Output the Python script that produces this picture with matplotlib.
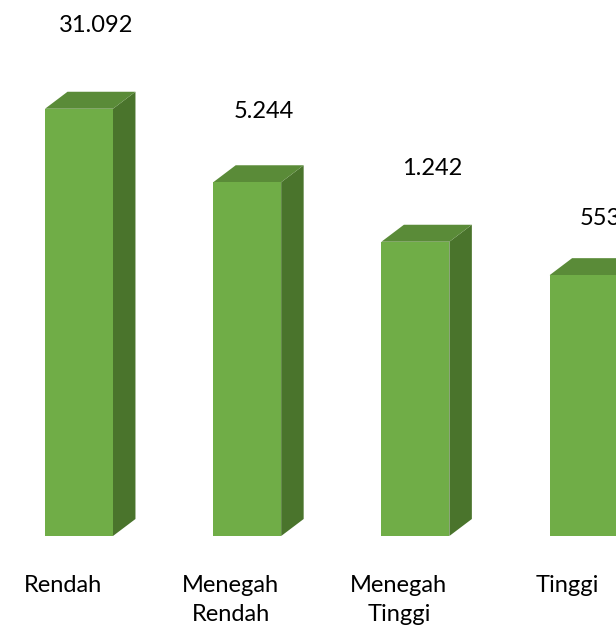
import matplotlib
matplotlib.use('Agg')
import matplotlib.pyplot as plt
from matplotlib.patches import Polygon
from matplotlib.transforms import IdentityTransform

categories = ['Rendah', 'Menegah\nRendah', 'Menegah\nTinggi', 'Tinggi']
values = [31092, 5244, 1242, 553]
value_labels = ['31.092', '5.244', '1.242', '553']

# layout (pixels at dpi 100)
W, H, DPI = 616, 630, 100
BAR_SHIFT = 0.098          # front face centre relative to category tick
BAR_W = 0.404
DX, DY = 22.5, 17          # depth of the 3D extrusion
LABEL_DX = 17
LABEL_DY = [77, 64, 67, 50]  # baseline of value label above front top

FRONT = '#70AD47'
TOP = '#5A8B38'
SIDE = '#4A742C'

plt.rcParams['font.family'] = ['Lato', 'DejaVu Sans']

fig = plt.figure(figsize=(W / DPI, H / DPI), dpi=DPI)
ax = fig.add_axes([0, 94 / H, 1, 536 / H])
ax.set_yscale('log')
ax.set_ylim(1, 10 ** (536 / 95.1))
ax.set_xlim(-62.5 / 168.2, (W - 62.5) / 168.2)

xs = [i + BAR_SHIFT for i in range(len(values))]
ax.bar(xs, values, width=BAR_W, color=FRONT, zorder=3)

for x, v in zip(xs, values):
    (x0, y0), (x1, y1) = ax.transData.transform([(x - BAR_W / 2, 1), (x + BAR_W / 2, v)])
    top = [(x0, y1), (x1, y1), (x1 + DX, y1 + DY), (x0 + DX, y1 + DY)]
    side = [(x1, y0), (x1, y1), (x1 + DX, y1 + DY), (x1 + DX, y0 + DY)]
    for pts, c in ((side, SIDE), (top, TOP)):
        ax.add_patch(Polygon(pts, closed=True, facecolor=c, edgecolor='none',
                             transform=IdentityTransform(), clip_on=False, zorder=2))

for x, v, lab, dy in zip(xs, values, value_labels, LABEL_DY):
    ax.annotate(lab, xy=(x, v), xytext=(LABEL_DX, dy), textcoords='offset pixels',
                ha='center', va='baseline', fontsize=17, color='#000000',
                annotation_clip=False)

ax.set_xticks(range(len(categories)))
ax.set_xticklabels(categories, fontsize=17, linespacing=1.5)
ax.tick_params(axis='x', length=0, pad=28)
ax.set_yticks([])
ax.yaxis.set_minor_locator(matplotlib.ticker.NullLocator())
for s in ax.spines.values():
    s.set_visible(False)

fig.savefig('out.png', dpi=DPI)
